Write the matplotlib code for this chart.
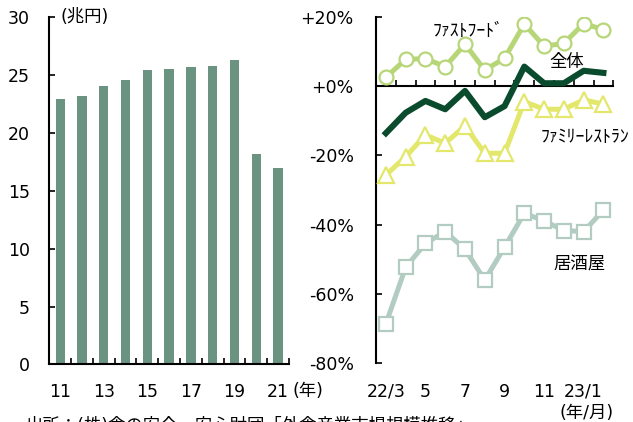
import numpy as np
import matplotlib
matplotlib.use("Agg")
from matplotlib import pyplot as plt
from matplotlib.ticker import FixedLocator, FuncFormatter

plt.rcParams['font.family'] = ['DejaVu Sans', 'Noto Sans CJK JP']

# left panel: market size (trillion yen)
years = ["11", "12", "13", "14", "15", "16", "17", "18", "19", "20", "21"]
market = [22.9, 23.2, 24.05, 24.6, 25.4, 25.5, 25.7, 25.8, 26.3, 18.2, 17.0]

# right panel: monthly y/y change (%)
months = ["22/3", "4", "5", "6", "7", "8", "9", "10", "11", "12", "23/1", "2"]
total = [-13.6, -7.7, -4.3, -6.7, -1.4, -9.0, -5.8, 5.6, 0.8, 0.8, 4.4, 3.8]
fastfood = [2.5, 7.7, 7.9, 5.6, 12.1, 4.6, 8.0, 17.9, 11.5, 12.3, 18.0, 16.3]
family = [-25.7, -20.4, -14.1, -16.5, -11.5, -19.4, -19.4, -4.5, -6.7, -6.7, -4.0, -5.2]
izakaya = [-68.6, -52.3, -45.4, -42.0, -47.1, -56.0, -46.5, -36.7, -38.9, -41.7, -42.0, -35.8]

FS = 12.5
BAR = "#6a9382"

fig = plt.figure(figsize=(6.33, 4.22), dpi=100)

# ---- left: bars
ax1 = fig.add_axes([0.0779, 0.1363, 0.3787, 0.8235])
x1 = np.arange(len(years))
ax1.bar(x1, market, width=0.43, color=BAR)
ax1.set_xlim(-0.5, len(years) - 0.5)
ax1.set_ylim(0, 30)
ax1.set_yticks(range(0, 31, 5))
ax1.set_xticks(x1[::2])
ax1.set_xticklabels(years[::2])
ax1.xaxis.set_minor_locator(FixedLocator(np.arange(-0.5, len(years), 1.0)))
ax1.tick_params(axis="x", which="major", length=0, pad=13, labelsize=FS)
ax1.tick_params(axis="x", which="minor", direction="in", length=4, width=1.2)
ax1.tick_params(axis="y", direction="in", length=4, width=1.2, pad=14, labelsize=FS)
for s in ["top", "right"]:
    ax1.spines[s].set_visible(False)
for s in ["left", "bottom"]:
    ax1.spines[s].set_linewidth(1.5)
ax1.text(0.045, 1.0, "(兆円)", transform=ax1.transAxes, fontsize=FS, va="center", ha="left")
ax1.text(1.015, -0.077, "(年)", transform=ax1.transAxes, fontsize=FS, va="center", ha="left")

# ---- right: lines
ax2 = fig.add_axes([0.594, 0.1391, 0.3749, 0.8213])
x2 = np.arange(len(months))
ms = 10
ax2.plot(x2, izakaya, color="#b2ccc2", lw=3.6, marker="s", ms=ms,
         mfc="white", mec="#b2ccc2", mew=1.6, zorder=3)
ax2.plot(x2, family, color="#e3e86c", lw=3.6, marker="^", ms=ms + 1,
         mfc="white", mec="#e3e86c", mew=1.6, zorder=3)
ax2.plot(x2, fastfood, color="#b7d678", lw=3.6, marker="o", ms=ms,
         mfc="white", mec="#b7d678", mew=1.6, zorder=3)
ax2.plot(x2, total, color="#0b4b2d", lw=4.4, zorder=4)
ax2.set_xlim(-0.5, len(months) - 0.5)
ax2.set_ylim(-80, 20)
ax2.set_yticks(range(-80, 21, 20))
ax2.yaxis.set_major_formatter(FuncFormatter(lambda v, p: ("+%d%%" % v) if v >= 0 else ("%d%%" % v)))
ax2.tick_params(axis="y", direction="in", length=4, width=1.2, pad=16, labelsize=FS)
ax2.set_xticks([])
ax2.xaxis.set_minor_locator(FixedLocator(np.arange(-0.5, len(months), 1.0)))
ax2.tick_params(axis="x", which="minor", direction="in", length=4, width=1.2)
ax2.spines["bottom"].set_position(("data", 0))
for s in ["top", "right"]:
    ax2.spines[s].set_visible(False)
for s in ["left", "bottom"]:
    ax2.spines[s].set_linewidth(1.5)

sec = ax2.secondary_xaxis(0.0)
sec.set_xticks(x2[::2])
sec.set_xticklabels(months[::2])
sec.tick_params(length=0, pad=14, labelsize=FS)
sec.spines["bottom"].set_visible(False)

ax2.text(2.35, 15.8, "ﾌｧｽﾄﾌｰﾄﾞ", fontsize=12.8, va="center", ha="left")
ax2.text(8.25, 7.0, "全体", fontsize=FS, va="center", ha="left")
ax2.text(7.85, -14.6, "ﾌｧﾐﾘｰﾚｽﾄﾗﾝ", fontsize=12.8, va="center", ha="left")
ax2.text(8.45, -51.5, "居酒屋", fontsize=FS, va="center", ha="left")
ax2.text(1.0, -0.143, "(年/月)", transform=ax2.transAxes, fontsize=FS, va="center", ha="right")

fig.text(0.04, 0.012, "出所：(株)食の安全・安心財団「外食産業市場規模推移」", fontsize=FS, va="top", ha="left")

fig.savefig("out.png", dpi=100)
